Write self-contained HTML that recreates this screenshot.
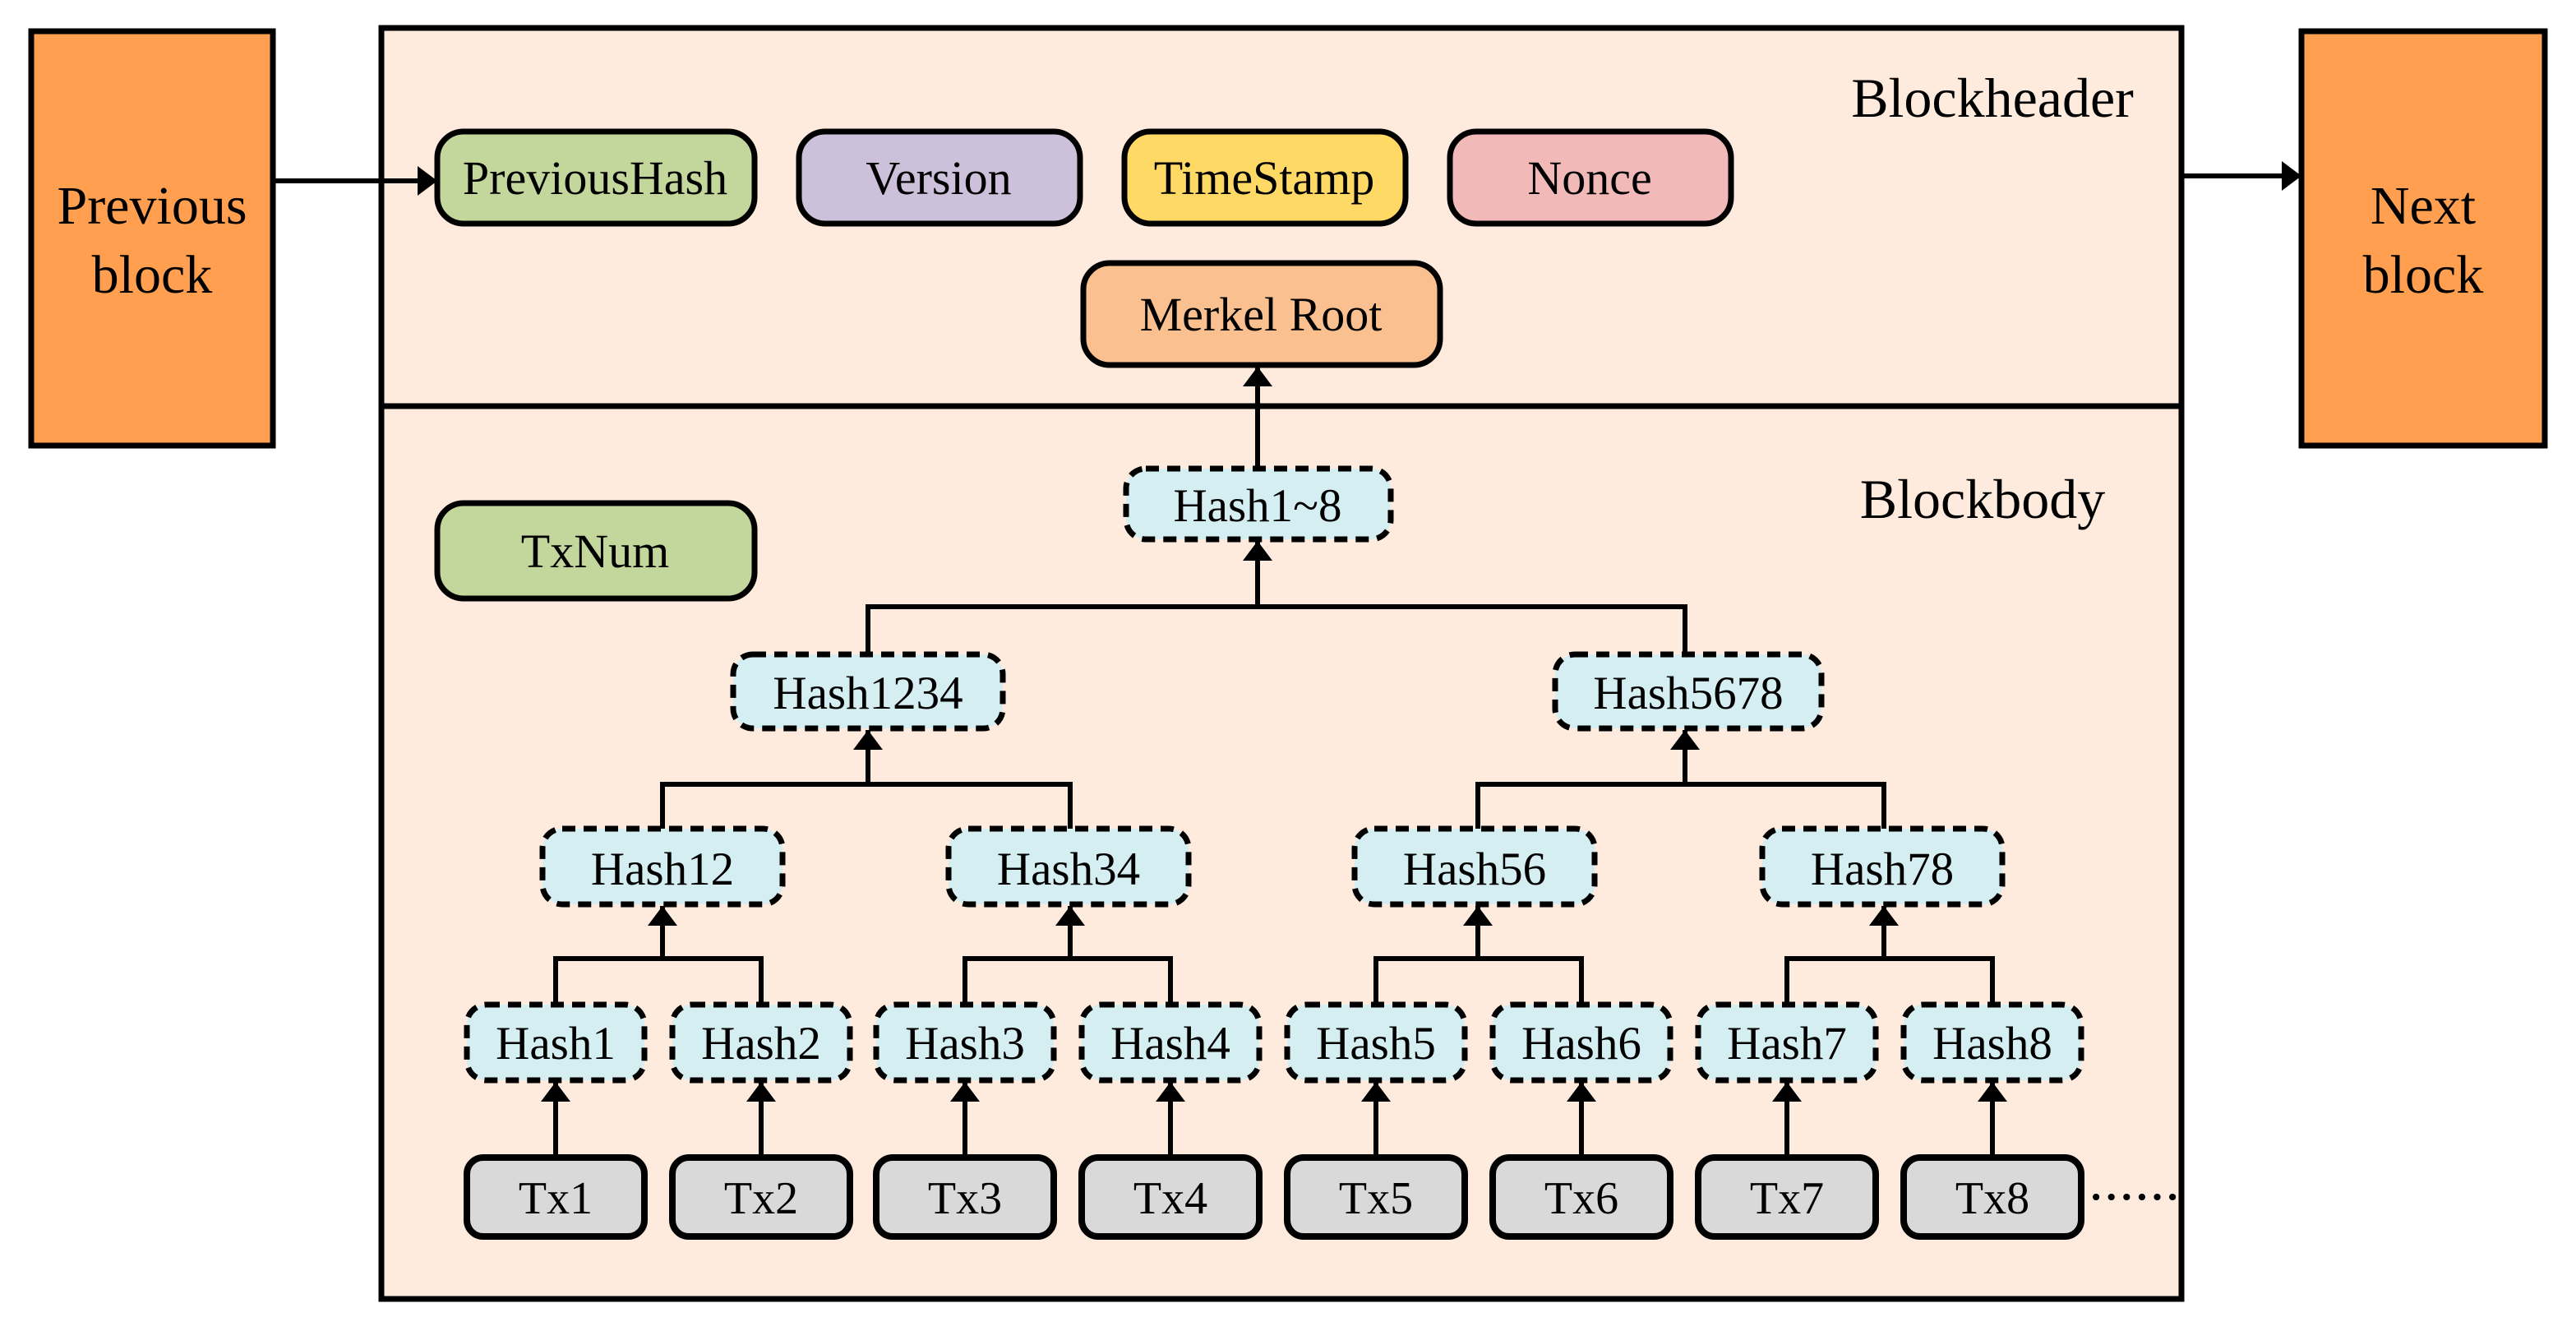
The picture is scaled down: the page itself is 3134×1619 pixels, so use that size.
<!DOCTYPE html>
<html><head><meta charset="utf-8"><style>html,body{margin:0;padding:0;background:#fff}svg{display:block}</style></head>
<body>
<svg width="3134" height="1619" viewBox="0 0 1567 809.5" xmlns="http://www.w3.org/2000/svg" font-family="Liberation Serif, serif">
<defs>
<marker id="b" viewBox="0 0 10 10" markerWidth="12" markerHeight="18" refX="10" refY="5" orient="auto" markerUnits="userSpaceOnUse" preserveAspectRatio="none"><path d="M0,0 L10,5 L0,10 z" fill="#000"/></marker></defs>
<rect x="19" y="19" width="147" height="252" fill="#FF9F4F" stroke="#000" stroke-width="3.5"/>
<text x="92.5" y="136" font-size="33" text-anchor="middle">Previous</text>
<text x="92.5" y="178" font-size="33" text-anchor="middle">block</text>
<rect x="1400" y="19" width="148" height="252" fill="#FF9F4F" stroke="#000" stroke-width="3.5"/>
<text x="1474" y="136" font-size="33" text-anchor="middle">Next</text>
<text x="1474" y="178" font-size="33" text-anchor="middle">block</text>
<rect x="232" y="17" width="1095" height="773" fill="#FFEBDE" stroke="#000" stroke-width="3.5"/>
<line x1="232" y1="247" x2="1327" y2="247" stroke="#000" stroke-width="3.5"/>
<text x="1212" y="71" font-size="34" text-anchor="middle">Blockheader</text>
<text x="1206" y="315" font-size="34" text-anchor="middle">Blockbody</text>
<g stroke="#000" stroke-width="3" fill="none">
<line x1="166" y1="110" x2="266" y2="110" marker-end="url(#b)"/>
<line x1="1327" y1="107" x2="1400" y2="107" marker-end="url(#b)"/>
<line x1="765" y1="285" x2="765" y2="223" marker-end="url(#b)"/>
<polyline points="528,398 528,369 1025,369 1025,398"/>
<line x1="765" y1="369" x2="765" y2="329" marker-end="url(#b)"/>
<polyline points="403,504 403,477 651,477 651,504"/>
<polyline points="899,504 899,477 1146,477 1146,504"/>
<line x1="528" y1="477" x2="528" y2="444" marker-end="url(#b)"/>
<line x1="1025" y1="477" x2="1025" y2="444" marker-end="url(#b)"/>
<polyline points="338,611 338,583 463,583 463,611"/>
<polyline points="587,611 587,583 712,583 712,611"/>
<polyline points="837,611 837,583 962,583 962,611"/>
<polyline points="1087,611 1087,583 1212,583 1212,611"/>
<line x1="403" y1="583" x2="403" y2="551" marker-end="url(#b)"/>
<line x1="651" y1="583" x2="651" y2="551" marker-end="url(#b)"/>
<line x1="899" y1="583" x2="899" y2="551" marker-end="url(#b)"/>
<line x1="1146" y1="583" x2="1146" y2="551" marker-end="url(#b)"/>
<line x1="338" y1="704" x2="338" y2="658" marker-end="url(#b)"/>
<line x1="463" y1="704" x2="463" y2="658" marker-end="url(#b)"/>
<line x1="587" y1="704" x2="587" y2="658" marker-end="url(#b)"/>
<line x1="712" y1="704" x2="712" y2="658" marker-end="url(#b)"/>
<line x1="837" y1="704" x2="837" y2="658" marker-end="url(#b)"/>
<line x1="962" y1="704" x2="962" y2="658" marker-end="url(#b)"/>
<line x1="1087" y1="704" x2="1087" y2="658" marker-end="url(#b)"/>
<line x1="1212" y1="704" x2="1212" y2="658" marker-end="url(#b)"/>
<line x1="1275" y1="728" x2="1322" y2="728" stroke-width="4" stroke-dasharray="0.1 9.2" stroke-linecap="round"/>
</g>
<g stroke="#000" stroke-width="3.5">
<rect x="266" y="80" width="193" height="56" rx="16" fill="#C3D69B"/>
<rect x="486" y="80" width="171" height="56" rx="16" fill="#CCC0DA"/>
<rect x="684" y="80" width="171" height="56" rx="16" fill="#FFD966"/>
<rect x="882" y="80" width="171" height="56" rx="16" fill="#F2B9B9"/>
<rect x="659" y="160" width="217" height="62" rx="16" fill="#FAC090"/>
<rect x="266" y="306" width="193" height="58" rx="16" fill="#C3D69B"/>
</g>
<g font-size="29" text-anchor="middle">
<text x="362" y="118">PreviousHash</text>
<text x="571" y="118">Version</text>
<text x="769" y="118">TimeStamp</text>
<text x="967" y="118">Nonce</text>
<text x="767" y="201">Merkel Root</text>
<text x="362" y="345">TxNum</text>
</g>
<g stroke="#000" stroke-width="3.5" stroke-dasharray="8 5" fill="#D5EEF2">
<rect x="685" y="285" width="161" height="43" rx="12"/>
<rect x="446" y="398" width="164" height="45" rx="12"/>
<rect x="946" y="398" width="162" height="45" rx="12"/>
<rect x="330" y="504" width="146" height="46" rx="12"/>
<rect x="577" y="504" width="146" height="46" rx="12"/>
<rect x="824" y="504" width="146" height="46" rx="12"/>
<rect x="1072" y="504" width="146" height="46" rx="12"/>
<rect x="284" y="611" width="108" height="46" rx="12"/>
<rect x="409" y="611" width="108" height="46" rx="12"/>
<rect x="533" y="611" width="108" height="46" rx="12"/>
<rect x="658" y="611" width="108" height="46" rx="12"/>
<rect x="783" y="611" width="108" height="46" rx="12"/>
<rect x="908" y="611" width="108" height="46" rx="12"/>
<rect x="1033" y="611" width="108" height="46" rx="12"/>
<rect x="1158" y="611" width="108" height="46" rx="12"/>
</g>
<g stroke="#000" stroke-width="4" fill="#D9D9D9">
<rect x="284" y="704" width="108" height="48" rx="10"/>
<rect x="409" y="704" width="108" height="48" rx="10"/>
<rect x="533" y="704" width="108" height="48" rx="10"/>
<rect x="658" y="704" width="108" height="48" rx="10"/>
<rect x="783" y="704" width="108" height="48" rx="10"/>
<rect x="908" y="704" width="108" height="48" rx="10"/>
<rect x="1033" y="704" width="108" height="48" rx="10"/>
<rect x="1158" y="704" width="108" height="48" rx="10"/>
</g>
<g font-size="28.5" text-anchor="middle">
<text x="765" y="317">Hash1~8</text>
<text x="528" y="431">Hash1234</text>
<text x="1027" y="431">Hash5678</text>
<text x="403" y="538">Hash12</text>
<text x="650" y="538">Hash34</text>
<text x="897" y="538">Hash56</text>
<text x="1145" y="538">Hash78</text>
<text x="338" y="644">Hash1</text><text x="463" y="644">Hash2</text>
<text x="587" y="644">Hash3</text><text x="712" y="644">Hash4</text>
<text x="837" y="644">Hash5</text><text x="962" y="644">Hash6</text>
<text x="1087" y="644">Hash7</text><text x="1212" y="644">Hash8</text>
</g>
<g font-size="28" text-anchor="middle">
<text x="338" y="738">Tx1</text><text x="463" y="738">Tx2</text>
<text x="587" y="738">Tx3</text><text x="712" y="738">Tx4</text>
<text x="837" y="738">Tx5</text><text x="962" y="738">Tx6</text>
<text x="1087" y="738">Tx7</text><text x="1212" y="738">Tx8</text>
</g>
</svg>
</body></html>
